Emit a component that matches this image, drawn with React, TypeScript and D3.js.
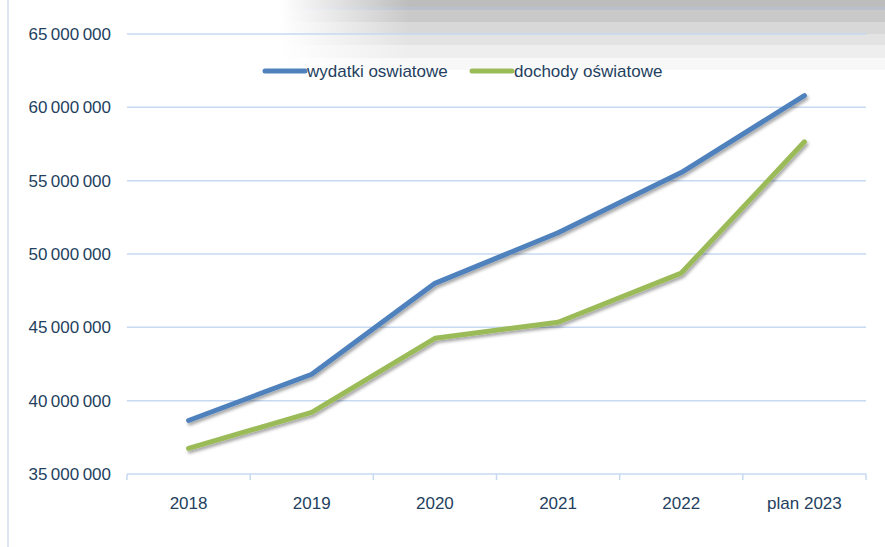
import React from "react";
import * as d3 from "d3";

const categories = ["2018", "2019", "2020", "2021", "2022", "plan 2023"];
const wydatki = [38650000, 41800000, 48000000, 51450000, 55550000, 60800000];
const dochody = [36750000, 39200000, 44250000, 45350000, 48700000, 57650000];
const yTicks = [35000000, 40000000, 45000000, 50000000, 55000000, 60000000, 65000000];
const seriesNames = ["wydatki oswiatowe", "dochody oświatowe"];
const seriesColors = ["#4F81BD", "#9BBB59"];

const W = 885;
const H = 547;
const FONT = "'Liberation Sans Narrow', 'Arial Narrow', sans-serif";
const TXT = "#243F60";
const GRID = "#C6D9F1";

export default function App() {
  const x = d3.scaleBand<string>().domain(categories).range([127, 866]);
  const y = d3.scaleLinear().domain([35000000, 65000000]).range([474, 34]);
  const fmt = (v: number) => d3.format(",")(v).replace(/,/g, "\u2009");
  const line = d3
    .line<number>()
    .x((_, i) => (x(categories[i]) as number) + x.bandwidth() / 2)
    .y((d) => y(d))
    .curve(d3.curveMonotoneX.constructor ? d3.curveLinear : d3.curveLinear);
  const series = [wydatki, dochody];
  const bands = [
    { y0: 0, y1: 7, c: "#bdbdbd" },
    { y0: 7, y1: 10, c: "#b9c0cc" },
    { y0: 10, y1: 22, c: "#c9c9c9" },
    { y0: 22, y1: 34, c: "#d8d8d8" },
    { y0: 34, y1: 45, c: "#e3e3e3" },
    { y0: 45, y1: 58, c: "#eeeeee" },
    { y0: 58, y1: 70, c: "#f8f8f8" },
  ];
  const legendX = [265, 472];
  return (
    <svg
      width={W}
      height={H}
      style={{ position: "absolute", left: 0, top: 0, background: "#fff" }}
    >
      <defs>
        <linearGradient id="fadeX" x1="0" x2="1" y1="0" y2="0">
          <stop offset="0" stopColor="#fff" stopOpacity="1" />
          <stop offset="1" stopColor="#fff" stopOpacity="0" />
        </linearGradient>
        <filter id="shadow" x="-10%" y="-10%" width="120%" height="130%">
          <feDropShadow dx="1.5" dy="2.5" stdDeviation="1.6" floodColor="#000" floodOpacity="0.35" />
        </filter>
      </defs>
      {bands.map((b, i) => (
        <rect key={i} x={280} y={b.y0} width={W - 280} height={b.y1 - b.y0} fill={b.c} />
      ))}
      <rect x={280} y={0} width={130} height={72} fill="url(#fadeX)" />
      <line x1={8} x2={8} y1={0} y2={H} stroke="#DCE6F2" strokeWidth={2} />
      {yTicks.map((t) => (
        <g key={t}>
          {t > 35000000 && (
            <line x1={127} x2={866} y1={y(t)} y2={y(t)} stroke={GRID} strokeWidth={1.5} />
          )}
          <text
            x={111}
            y={y(t)}
            dy="0.35em"
            textAnchor="end"
            fill={TXT}
            fontFamily={FONT}
            fontSize={17}
          >
            {fmt(t)}
          </text>
        </g>
      ))}
      <line x1={127} x2={866} y1={474} y2={474} stroke={GRID} strokeWidth={1.5} />
      {categories.concat(["__end"]).map((c, i) => {
        const xx = 127 + i * x.bandwidth();
        return <line key={i} x1={xx} x2={xx} y1={474} y2={480} stroke={GRID} strokeWidth={1.5} />;
      })}
      {categories.map((c) => (
        <text
          key={c}
          x={(x(c) as number) + x.bandwidth() / 2}
          y={503}
          dy="0.35em"
          textAnchor="middle"
          fill={TXT}
          fontFamily={FONT}
          fontSize={17}
        >
          {c}
        </text>
      ))}
      {series.map((s, i) => (
        <path
          key={i}
          d={line(s) || ""}
          fill="none"
          stroke={seriesColors[i]}
          strokeWidth={5}
          strokeLinecap="round"
          strokeLinejoin="round"
          filter="url(#shadow)"
        />
      ))}
      {seriesNames.map((n, i) => (
        <g key={n}>
          <line
            x1={legendX[i]}
            x2={legendX[i] + 40}
            y1={71}
            y2={71}
            stroke={seriesColors[i]}
            strokeWidth={5}
            strokeLinecap="round"
          />
          <text
            x={legendX[i] + 42}
            y={71}
            dy="0.35em"
            fill={TXT}
            fontFamily={FONT}
            fontSize={17}
          >
            {n}
          </text>
        </g>
      ))}
    </svg>
  );
}
